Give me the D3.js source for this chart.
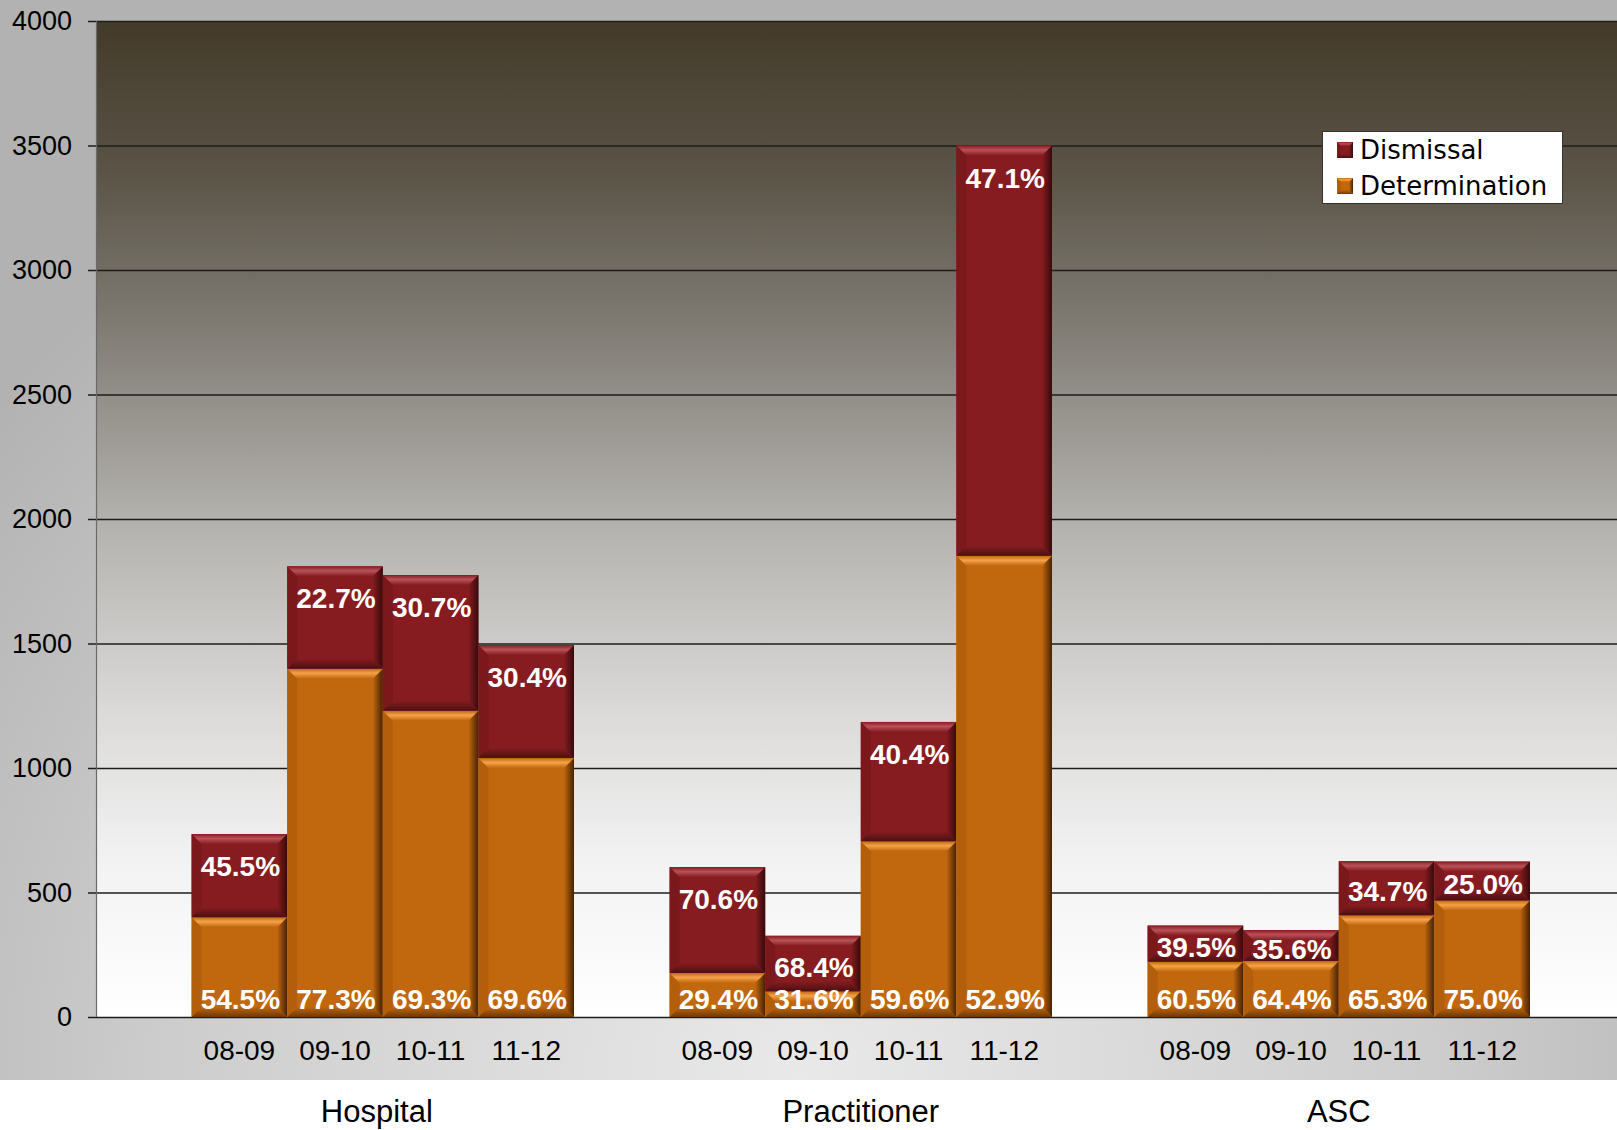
<!DOCTYPE html>
<html><head><meta charset="utf-8">
<script src="https://cdn.jsdelivr.net/npm/d3@7"></script>
<style>html,body{margin:0;padding:0;background:#fff;}svg{display:block;}</style>
</head><body>
<script>
const groups = ["Hospital", "Practitioner", "ASC"];
const years = ["08-09", "09-10", "10-11", "11-12"];
const determination = [401, 1399, 1230, 1040, 177, 103, 706, 1852, 222, 225, 409, 468];
const dismissal = [334, 411, 545, 454, 425, 223, 479, 1648, 145, 124, 217, 156];
const determinationPct = ["54.5%","77.3%","69.3%","69.6%","29.4%","31.6%","59.6%","52.9%","60.5%","64.4%","65.3%","75.0%"];
const dismissalPct = ["45.5%","22.7%","30.7%","30.4%","70.6%","68.4%","40.4%","47.1%","39.5%","35.6%","34.7%","25.0%"];
const yTicks = [0, 500, 1000, 1500, 2000, 2500, 3000, 3500, 4000];
const seriesNames = ["Dismissal", "Determination"];

const W = 1617, H = 1130;
const svg = d3.select("body").append("svg").attr("width", W).attr("height", H);
const defs = svg.append("defs");

// background gradients
const bg = defs.append("radialGradient").attr("id","bg").attr("gradientUnits","userSpaceOnUse")
  .attr("cx",800).attr("cy",1080).attr("r",1050);
bg.append("stop").attr("offset","0%").attr("stop-color","#e9e9e9");
bg.append("stop").attr("offset","60%").attr("stop-color","#cdcdcd");
bg.append("stop").attr("offset","100%").attr("stop-color","#b2b2b2");

const pg = defs.append("linearGradient").attr("id","plotbg").attr("x1",0).attr("y1",0).attr("x2",0).attr("y2",1);
[["0%","#433a29"],["15%","#5a5346"],["30%","#7e7a72"],["50%","#b3b1ad"],["70%","#dcdbda"],["85%","#f3f3f3"],["100%","#ffffff"]]
  .forEach(s => pg.append("stop").attr("offset",s[0]).attr("stop-color",s[1]));

svg.append("rect").attr("x",0).attr("y",0).attr("width",W).attr("height",1080).attr("fill","url(#bg)");

// scales
const slots = [];
slots.push("blank0");
groups.forEach((g, gi) => {
  years.forEach(yr => slots.push(g + "|" + yr));
  slots.push("blank" + (gi + 1));
});
const slotW = 95.6;
const x = d3.scaleBand().domain(slots).range([96, 96 + slots.length * slotW]).padding(0);
const y = d3.scaleLinear().domain([0, 4000]).range([1017, 21]);

const plotLeft = 96;
svg.append("rect").attr("x", plotLeft).attr("y", y(4000)).attr("width", W - plotLeft).attr("height", y(0) - y(4000))
  .attr("fill", "url(#plotbg)");

// gridlines + y axis
const yAxis = d3.axisLeft(y).tickValues(yTicks).tickSize(-(W - plotLeft)).tickPadding(24).tickFormat(d3.format("d"));
const ga = svg.append("g").attr("transform", `translate(${plotLeft},0)`).call(yAxis);
ga.select(".domain").remove();
ga.selectAll(".tick line").attr("stroke", "#1c1c1c").attr("stroke-width", 1.4).attr("x1", -8);
ga.selectAll(".tick text").attr("font-family", "'Liberation Sans', Arial, sans-serif").attr("font-size", 27).attr("fill", "#000");
svg.append("line").attr("x1", plotLeft + 0.5).attr("x2", plotLeft + 0.5).attr("y1", y(4000)).attr("y2", y(0))
  .attr("stroke", "#6a6a6a").attr("stroke-width", 1.2);

// bars
const items = [];
groups.forEach((g, gi) => years.forEach((yr, yi) => {
  const i = gi * 4 + yi;
  items.push({key: g + "|" + yr, year: yr, det: determination[i], dis: dismissal[i], detPct: determinationPct[i], disPct: dismissalPct[i]});
}));

const palette = {
  Dismissal: {id:"dis", main:"#861c1f", top:"#b8525a", bottom:"#4a1013", left:"#7a181b", right:"#360a0c"},
  Determination: {id:"det", main:"#c1670e", top:"#f5a24a", bottom:"#6e3805", left:"#b35e0b", right:"#452203"}
};
Object.values(palette).forEach(c => {
  const gt = defs.append("linearGradient").attr("id", c.id + "T").attr("x1",0).attr("y1",0).attr("x2",0).attr("y2",1);
  gt.append("stop").attr("offset","0%").attr("stop-color", c.main);
  gt.append("stop").attr("offset","45%").attr("stop-color", c.top);
  gt.append("stop").attr("offset","100%").attr("stop-color", c.main);
  const gb = defs.append("linearGradient").attr("id", c.id + "B").attr("x1",0).attr("y1",0).attr("x2",0).attr("y2",1);
  gb.append("stop").attr("offset","0%").attr("stop-color", c.main);
  gb.append("stop").attr("offset","100%").attr("stop-color", c.bottom);
  const gr = defs.append("linearGradient").attr("id", c.id + "R").attr("x1",0).attr("y1",0).attr("x2",1).attr("y2",0);
  gr.append("stop").attr("offset","0%").attr("stop-color", c.main);
  gr.append("stop").attr("offset","100%").attr("stop-color", c.right);
});

function bevelRect(g, x0, y0, w, h, c, bsz) {
  const b = Math.min(bsz, h / 2.5, w / 4);
  g.append("rect").attr("x", x0).attr("y", y0).attr("width", w).attr("height", h).attr("fill", c.main);
  const pts = (arr) => arr.map(p => p.join(",")).join(" ");
  g.append("polygon").attr("points", pts([[x0,y0],[x0+b,y0+b],[x0+b,y0+h-b],[x0,y0+h]])).attr("fill", c.left);
  g.append("polygon").attr("points", pts([[x0+w,y0],[x0+w-b,y0+b],[x0+w-b,y0+h-b],[x0+w,y0+h]])).attr("fill", `url(#${c.id}R)`);
  g.append("polygon").attr("points", pts([[x0,y0],[x0+w,y0],[x0+w-b,y0+b],[x0+b,y0+b]])).attr("fill", `url(#${c.id}T)`);
  g.append("polygon").attr("points", pts([[x0,y0+h],[x0+w,y0+h],[x0+w-b,y0+h-b],[x0+b,y0+h-b]])).attr("fill", `url(#${c.id}B)`);
}

const barsG = svg.append("g");
items.forEach(d => {
  const x0 = x(d.key), w = x.bandwidth();
  const yDet = y(d.det), yTop = y(d.det + d.dis);
  bevelRect(barsG, x0, yDet, w, y(0) - yDet, palette.Determination, 10);
  bevelRect(barsG, x0, yTop, w, yDet - yTop, palette.Dismissal, 10);
});

// labels
const lblFont = "'Liberation Sans', Arial, sans-serif";
items.forEach(d => {
  const cx = x(d.key) + x.bandwidth() / 2 + 1;
  const yDet = y(d.det), yTop = y(d.det + d.dis);
  const hDis = yDet - yTop;
  svg.append("text").attr("x", cx).attr("y", y(0) - 8).attr("text-anchor", "middle")
    .attr("font-family", lblFont).attr("font-weight", "bold").attr("font-size", 28).attr("fill", "#fff").text(d.detPct);
  const cy = yTop + Math.min(32, hDis / 2 + 3);
  svg.append("text").attr("x", cx).attr("y", cy + 10).attr("text-anchor", "middle")
    .attr("font-family", lblFont).attr("font-weight", "bold").attr("font-size", 28).attr("fill", "#fff").text(d.disPct);
});

// x category labels
items.forEach(d => {
  svg.append("text").attr("x", x(d.key) + x.bandwidth() / 2).attr("y", 1060).attr("text-anchor", "middle")
    .attr("font-family", lblFont).attr("font-size", 28).attr("fill", "#000").text(d.year);
});
groups.forEach((g, gi) => {
  const a = x(g + "|" + years[0]), b = x(g + "|" + years[years.length - 1]) + x.bandwidth();
  svg.append("text").attr("x", (a + b) / 2 - (gi === 0 ? 6 : 0)).attr("y", 1122).attr("text-anchor", "middle")
    .attr("font-family", lblFont).attr("font-size", 31).attr("fill", "#000").text(g);
});

// legend
const lg = svg.append("g").attr("transform", "translate(1322,131)");
lg.append("rect").attr("x", 0.5).attr("y", 0.5).attr("width", 240).attr("height", 72).attr("fill", "#fff").attr("stroke", "#333").attr("stroke-width", 1);
seriesNames.forEach((s, i) => {
  const sy = 11 + i * 36;
  bevelRect(lg, 15, sy, 16, 16, palette[s], 6);
  lg.append("text").attr("x", 38).attr("y", sy + 17).attr("font-family", "'DejaVu Sans', Verdana, sans-serif")
    .attr("font-size", 26).attr("fill", "#000").text(s);
});
</script>
</body></html>
